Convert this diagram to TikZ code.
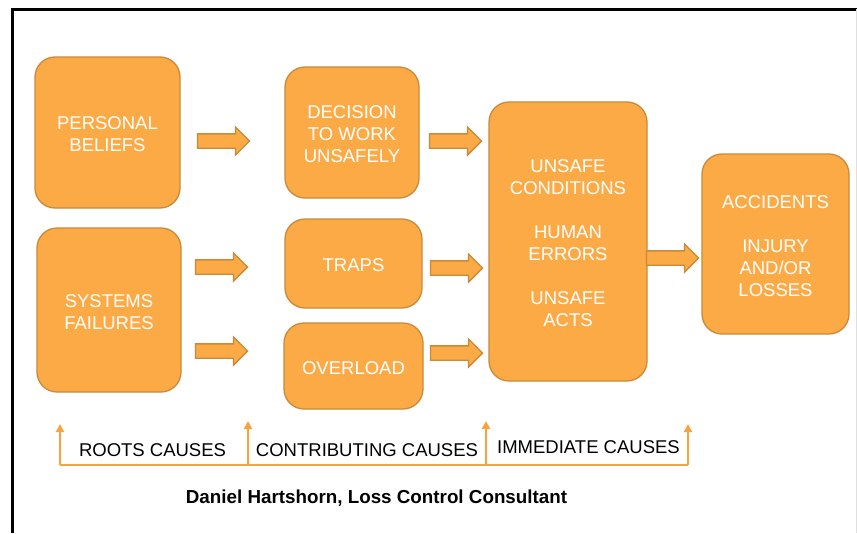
\documentclass[tikz,border=0pt]{standalone}
\usepackage{fontspec}
\setmainfont{Liberation Sans}
\usetikzlibrary{shapes.arrows,arrows.meta}
\definecolor{boxfill}{HTML}{FBAA45}
\definecolor{boxline}{HTML}{C98A3A}
\definecolor{rule}{HTML}{F7A43F}
\tikzset{
  causebox/.style={draw=boxline, line width=1.3pt, fill=boxfill, rounded corners=20pt, inner sep=0pt},
  boxtext/.style={text=white, align=center, font=\fontsize{18.5}{22}\selectfont, inner sep=0pt, yshift=-2pt},
  blockarrow/.style={single arrow, draw=boxline, line width=1.3pt, fill=boxfill,
    minimum height=52pt, minimum width=27pt, inner sep=6.5pt, single arrow head extend=7pt},
  tick/.style={draw=rule, line width=2pt, -{Triangle[length=8pt,width=8pt]}},
  stage/.style={font=\fontsize{18.5}{22}\selectfont, text=black, anchor=base}
}
\begin{document}
\begin{tikzpicture}[x=1pt,y=-1pt]
\useasboundingbox (0,0) rectangle (857,533);
\fill[white] (0,0) rectangle (857,533);
% frame
\draw[line width=3pt] (12,533) -- (12,9) -- (857,9);
\draw[gray!25, line width=1pt] (856,9) -- (856,533);

% cause boxes
\node[causebox, minimum width=145pt, minimum height=151pt,
  label={[boxtext]center:PERSONAL\\BELIEFS}] (beliefs) at (107.5,132.5) {};
\node[causebox, minimum width=144pt, minimum height=164pt,
  label={[boxtext]center:SYSTEMS\\FAILURES}] (systems) at (109,310) {};
\node[causebox, minimum width=134pt, minimum height=131pt,
  label={[boxtext]center:DECISION\\TO WORK\\UNSAFELY}] (decision) at (352,132.5) {};
\node[causebox, minimum width=137pt, minimum height=89pt,
  label={[boxtext]center:TRAPS}] (traps) at (353.5,263.5) {};
\node[causebox, minimum width=139pt, minimum height=86pt,
  label={[boxtext]center:OVERLOAD}] (overload) at (353.5,366) {};
\node[causebox, minimum width=158pt, minimum height=279pt,
  label={[boxtext]center:UNSAFE\\CONDITIONS\\[22pt]HUMAN\\ERRORS\\[22pt]UNSAFE\\ACTS}] (unsafe) at (568,241.5) {};
\node[causebox, minimum width=147pt, minimum height=180pt,
  label={[boxtext]center:ACCIDENTS\\[22pt]INJURY\\AND/OR\\LOSSES}] (accidents) at (775.5,244) {};

% block arrows
\node[blockarrow] (a1) at (220,141) {};
\node[blockarrow] (a2) at (452,141) {};
\node[blockarrow] (a3) at (218,267) {};
\node[blockarrow] (a4) at (218,351) {};
\node[blockarrow] (a5) at (453,268) {};
\node[blockarrow] (a6) at (453,353) {};
\node[blockarrow] (a7) at (669,258) {};

% cause stages
\coordinate (b0) at (60,465);
\coordinate (b1) at (248,465);
\coordinate (b2) at (486,465);
\coordinate (b3) at (688,465);
\coordinate (t0) at (60,424);
\coordinate (t1) at (248,421);
\coordinate (t2) at (486,421);
\coordinate (t3) at (688,424);
\draw[draw=rule, line width=2pt] (b0) -- (b3);
\draw[tick] (b0) -- (t0);
\draw[tick] (b1) -- (t1);
\draw[tick] (b2) -- (t2);
\draw[tick] (b3) -- (t3);
\node[stage] (roots) at (152.5,456) {ROOTS CAUSES};
\node[stage] (contrib) at (367,456) {CONTRIBUTING CAUSES};
\node[stage] (immediate) at (588.5,453) {IMMEDIATE CAUSES};

\node[font=\bfseries\fontsize{18.8}{22}\selectfont, anchor=base] (credit) at (376.5,503) {Daniel Hartshorn, Loss Control Consultant};
\end{tikzpicture}
\end{document}
